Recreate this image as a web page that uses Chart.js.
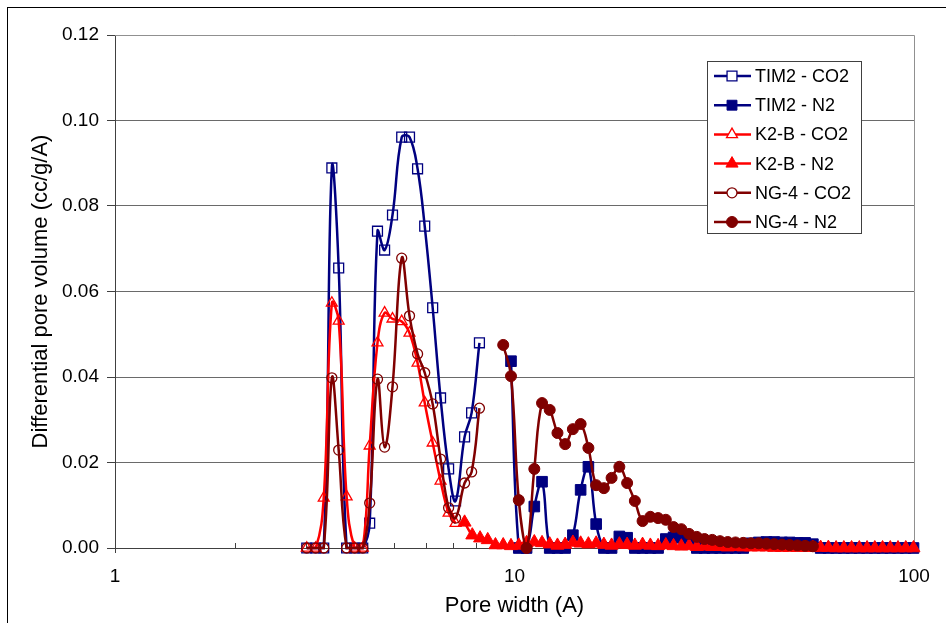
<!DOCTYPE html>
<html>
<head>
<meta charset="utf-8">
<title>Differential pore volume</title>
<script src="https://cdn.jsdelivr.net/npm/chart.js@4.4.0/dist/chart.umd.min.js"></script>
<style>
  html, body { margin: 0; padding: 0; background: #fff; overflow: hidden; }
  canvas { display: block; }
</style>
</head>
<body>
<canvas id="poreChart" width="946" height="623"></canvas>
<script>
// pore widths (A) of the two DFT grids
const co2Width = [3.02, 3.18, 3.33, 3.49, 3.63, 3.80, 3.98, 4.17, 4.34, 4.54, 4.73, 4.95,
  5.22, 5.46, 5.72, 5.96, 6.24, 6.53, 6.84, 7.12, 7.50, 7.81, 8.17];
const n2Width = [7.50, 7.84, 8.20, 8.57, 8.96, 9.37, 9.80, 10.25, 10.72, 11.21, 11.72, 12.25,
  12.81, 13.39, 14.00, 14.64, 15.31, 16.01, 16.74, 17.50, 18.30, 19.14, 20.01, 20.92,
  21.88, 22.88, 23.92, 25.01, 26.16, 27.35, 28.60, 29.90, 31.26, 32.69, 34.18, 35.74,
  37.37, 39.07, 40.86, 42.72, 44.67, 46.71, 48.84, 51.07, 53.40, 55.83, 58.38, 61.04,
  63.83, 66.74, 69.78, 72.97, 76.30, 79.78, 83.42, 87.22, 91.20, 95.36, 99.71];

// differential pore volume (cc/g/A)
const tim2Co2 = [0, 0, 0, 0.0889, 0.0655, 0, 0, 0, 0.0058, 0.0741, 0.0697, 0.0779,
  0.0961, 0.0961, 0.0887, 0.0753, 0.0562, 0.0351, 0.0185, 0.0110, 0.0260, 0.0316, 0.0480];
const k2bCo2 = [0, 0, 0.0117, 0.0573, 0.0531, 0.0120, 0, 0, 0.0239, 0.0480, 0.0550, 0.0536,
  0.0530, 0.0503, 0.0433, 0.0340, 0.0246, 0.0157, 0.0082, 0.0058];
const ng4Co2 = [0, 0, 0, 0.0398, 0.0229, 0, 0, 0, 0.0105, 0.0395, 0.0236, 0.0377,
  0.0678, 0.0543, 0.0454, 0.0410, 0.0337, 0.0208, 0.0094, 0.0070, 0.0152, 0.0178, 0.0327];

const tim2N2 = [null, null, null, null, null, null, 0.0437, 0, 0, 0.0097, 0.0155, 0,
  0, 0, 0.0030, 0.0136, 0.0190, 0.0056, 0, 0, 0.0027, 0.0024, 0, 0,
  0, 0, 0.0021, 0.0025, 0.0024, 0.0018, 0, 0, 0, 0, 0, 0,
  0, 0.0011, 0.0013, 0.0014, 0.0014, 0.0013, 0.0013, 0.0012, 0.0012, 0.0009, 0, 0,
  0, 0, 0, 0, 0, 0, 0, 0, 0, 0, 0];
const k2bN2 = [0.0060, 0.0030, 0.0023, 0.0019, 0.0007, 0.0007, 0.0005, 0.0006, 0.0012, 0.0014, 0.0012, 0.0009,
  0.0006, 0.0008, 0.0013, 0.0011, 0.0009, 0.0011, 0.0008, 0.0006, 0.0009, 0.0008, 0.0006, 0.0008,
  0.0006, 0.0005, 0.0007, 0.0005, 0.0004, 0.0005, 0.0003, 0.0004, 0.0003, 0.0003, 0.0002, 0.0003,
  0.0002, 0.0002, 0.0002, 0.0002, 0.0001, 0.0001, 0.0001, 0.0001, 0.0001, 0.0001, 0.0001, 0.0001,
  0, 0, 0, 0, 0, 0, 0, 0, 0, 0, 0];
const ng4N2 = [null, null, null, null, null, 0.0475, 0.0402, 0.0112, 0, 0.0185, 0.0339, 0.0323,
  0.0269, 0.0243, 0.0278, 0.0290, 0.0234, 0.0147, 0.0140, 0.0164, 0.0190, 0.0152, 0.0110, 0.0063,
  0.0073, 0.0070, 0.0066, 0.0049, 0.0044, 0.0033, 0.0026, 0.0021, 0.0019, 0.0016, 0.0014, 0.0013,
  0.0012, 0.0011, 0.0011, 0.0010, 0.0009, 0.0008, 0.0007, 0.0006, 0.0005, 0.0004];

// axis ticks
const xMajor = [1, 10, 100];
const xMinor = [2, 3, 4, 5, 6, 7, 8, 9, 20, 30, 40, 50, 60, 70, 80, 90];
const yTicks = [0, 0.02, 0.04, 0.06, 0.08, 0.10, 0.12];

const NAVY = '#000080';
const RED = '#ff0000';
const MAROON = '#800000';
const AXIS = '#404040';

function pts(widths, values) {
  return values
    .map((v, i) => ({ x: widths[i], y: v }))
    .filter(p => p.y !== null);
}

function series(label, data, color, style, radius, open, order) {
  return {
    label: label,
    data: data,
    borderColor: color,
    borderWidth: 2.5,
    backgroundColor: color,
    pointStyle: style,
    pointRadius: radius,
    pointHoverRadius: radius,
    pointBorderColor: color,
    pointBackgroundColor: open ? 'rgba(255,255,255,0)' : color,
    pointBorderWidth: open ? 1.3 : 1,
    tension: 0.4,
    fill: false,
    clip: false,
    order: order,
    open: open
  };
}

const datasets = [
  series('TIM2 - CO2', pts(co2Width, tim2Co2), NAVY, 'rect', 7, true, 5),
  series('TIM2 - N2', pts(n2Width, tim2N2), NAVY, 'rect', 7.5, false, 4),
  series('K2-B - CO2', pts(co2Width, k2bCo2), RED, 'triangle', 6.3, true, 3),
  series('K2-B - N2', pts(n2Width, k2bN2), RED, 'triangle', 7.5, false, 2),
  series('NG-4 - CO2', pts(co2Width, ng4Co2), MAROON, 'circle', 5, true, 1),
  series('NG-4 - N2', pts(n2Width, ng4N2), MAROON, 'circle', 5.5, false, 0)
];

function marker(ctx, style, x, y, r) {
  ctx.beginPath();
  if (style === 'rect') {
    const s = r * Math.SQRT1_2;
    ctx.rect(x - s, y - s, 2 * s, 2 * s);
  } else if (style === 'triangle') {
    ctx.moveTo(x, y - r);
    ctx.lineTo(x + r * 0.866, y + r * 0.5);
    ctx.lineTo(x - r * 0.866, y + r * 0.5);
    ctx.closePath();
  } else {
    ctx.arc(x, y, r, 0, Math.PI * 2);
  }
}

// white page, outer frame and grey plot border
const frame = {
  id: 'frame',
  beforeDraw(chart) {
    const ctx = chart.ctx;
    ctx.save();
    ctx.fillStyle = '#fff';
    ctx.fillRect(0, 0, chart.width, chart.height);
    ctx.strokeStyle = '#000';
    ctx.lineWidth = 1;
    ctx.strokeRect(7.5, 7.5, chart.width + 20, chart.height + 20);
    ctx.restore();
  },
  beforeDatasetsDraw(chart) {
    const { ctx, chartArea: a, scales: { x } } = chart;
    ctx.save();
    ctx.strokeStyle = '#909090';
    ctx.lineWidth = 1;
    ctx.beginPath();
    ctx.moveTo(a.left, a.top + 0.5);
    ctx.lineTo(a.right + 0.5, a.top + 0.5);
    ctx.lineTo(a.right + 0.5, a.bottom);
    ctx.stroke();
    // inside ticks on the log axis
    ctx.strokeStyle = AXIS;
    ctx.beginPath();
    xMajor.concat(xMinor).forEach(v => {
      const px = Math.round(x.getPixelForValue(v)) + 0.5;
      ctx.moveTo(px, a.bottom);
      ctx.lineTo(px, a.bottom - 5);
    });
    ctx.stroke();
    ctx.restore();
  }
};

// boxed legend inside the plot area
const boxLegend = {
  id: 'boxLegend',
  afterDraw(chart) {
    const ctx = chart.ctx;
    const left = 707, top = 61, w = 154, h = 172;
    ctx.save();
    ctx.fillStyle = '#fff';
    ctx.fillRect(left, top, w, h);
    ctx.strokeStyle = AXIS;
    ctx.lineWidth = 1;
    ctx.strokeRect(left + 0.5, top + 0.5, w, h);
    ctx.font = '18px "Liberation Sans", Arial, sans-serif';
    ctx.textBaseline = 'middle';
    ctx.textAlign = 'left';
    chart.data.datasets.forEach((ds, i) => {
      const y = 76 + i * 29.2;
      ctx.strokeStyle = ds.borderColor;
      ctx.lineWidth = 2.5;
      ctx.beginPath();
      ctx.moveTo(714, y);
      ctx.lineTo(751, y);
      ctx.stroke();
      marker(ctx, ds.pointStyle, 732, y, Math.min(ds.pointRadius, 7));
      ctx.fillStyle = ds.open ? '#fff' : ds.borderColor;
      ctx.fill();
      ctx.lineWidth = ds.pointBorderWidth;
      ctx.stroke();
      ctx.fillStyle = '#000';
      ctx.fillText(ds.label, 755, y + 1);
    });
    ctx.restore();
  }
};

Chart.defaults.font.family = '"Liberation Sans", Arial, sans-serif';
Chart.defaults.color = '#000';

new Chart(document.getElementById('poreChart'), {
  type: 'line',
  data: { datasets: datasets },
  options: {
    responsive: false,
    animation: false,
    events: [],
    layout: { padding: { top: 35, right: 32, left: 0, bottom: 0 } },
    plugins: {
      legend: { display: false },
      tooltip: { enabled: false }
    },
    scales: {
      x: {
        type: 'logarithmic',
        min: 1,
        max: 100,
        afterFit: s => { s.height = 75; },
        afterBuildTicks: s => {
          s.ticks = xMajor.concat(xMinor).sort((a, b) => a - b)
            .map(v => ({ value: v, major: xMajor.includes(v) }));
        },
        ticks: {
          autoSkip: false,
          maxRotation: 0,
          padding: 12,
          font: { size: 19 },
          callback: v => (xMajor.includes(v) ? String(v) : '')
        },
        grid: {
          drawOnChartArea: false,
          tickLength: 5,
          tickColor: c => (c.tick && xMajor.includes(c.tick.value) ? AXIS : 'rgba(0,0,0,0)')
        },
        border: { color: AXIS, width: 1 },
        title: {
          display: true,
          text: 'Pore width (A)',
          font: { size: 22 },
          padding: { top: 0, bottom: 4 }
        }
      },
      y: {
        min: 0,
        max: 0.12,
        afterFit: s => { s.width = 115; },
        afterBuildTicks: s => { s.ticks = yTicks.map(v => ({ value: v })); },
        ticks: {
          padding: 8,
          font: { size: 19 },
          callback: v => v.toFixed(2)
        },
        grid: {
          color: '#6a6a6a',
          lineWidth: 1,
          tickLength: 8,
          tickColor: AXIS
        },
        border: { color: AXIS, width: 1 },
        title: {
          display: true,
          text: 'Differential pore volume (cc/g/A)',
          font: { size: 22 },
          padding: { top: 28, bottom: 0 }
        }
      }
    }
  },
  plugins: [frame, boxLegend]
});
</script>
</body>
</html>
